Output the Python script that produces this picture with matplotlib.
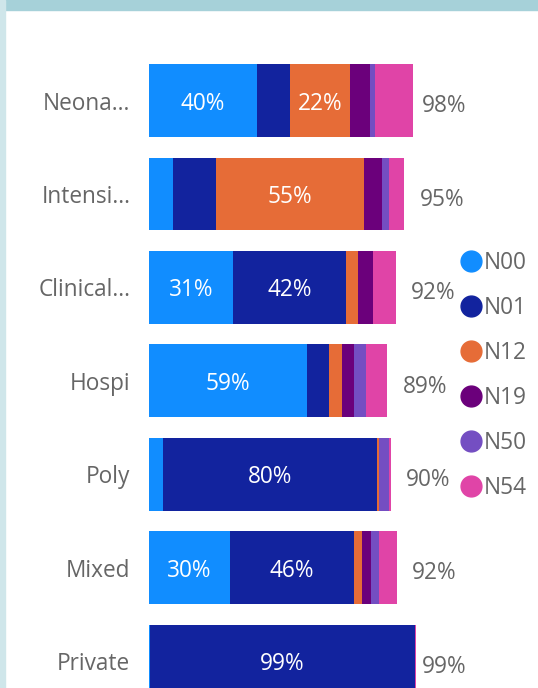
import matplotlib.pyplot as plt
from matplotlib.patches import Rectangle
from matplotlib.lines import Line2D
import numpy as np

plt.rcParams['font.family'] = ['Open Sans', 'DejaVu Sans']

# categories, top to bottom
categories = ["Neona...", "Intensi...", "Clinical...", "Hospi", "Poly", "Mixed", "Private"]

# share of each code per category, in percent
series_names = ["N00", "N01", "N12", "N19", "N50", "N54"]
n00 = [40.0, 8.9, 31.2, 58.7, 5.2, 30.1, 0.3]
n01 = [12.6, 16.0, 41.9, 8.2, 79.6, 46.1, 98.7]
n12 = [22.0, 55.0, 4.6, 4.8, 0.7, 3.0, 0.0]
n19 = [7.5, 6.7, 5.6, 4.5, 0.0, 3.3, 0.0]
n50 = [1.9, 2.7, 0.0, 4.5, 3.7, 3.0, 0.0]
n54 = [14.3, 5.6, 8.5, 7.9, 0.7, 6.7, 0.3]
series_values = [n00, n01, n12, n19, n50, n54]
colors = ["#118DFF", "#12239E", "#E66C37", "#6B007B", "#744EC2", "#E044A7"]

text_grey = "#666666"
fs = 16.3

W, H = 538, 688
fig = plt.figure(figsize=(W / 100, H / 100), dpi=100)
fig.patch.set_facecolor("white")

# light blue frame pieces of the report page
fig.patches.append(Rectangle((5 / W, 1 - 10 / H), 1, 10 / H, transform=fig.transFigure,
                             color="#A6D1D9", zorder=0))
fig.patches.append(Rectangle((0, 0), 5 / W, 1, transform=fig.transFigure,
                             color="#CFE6EA", zorder=0))

ax = fig.add_axes([149 / W, -0.0288, 269 / W, 0.9506])
ax.set_facecolor("none")

y = np.arange(len(categories))
left = np.zeros(len(categories))
for name, vals, col in zip(series_names, series_values, colors):
    vals = np.array(vals)
    ax.barh(y, vals, left=left, height=0.78, color=col, label=name)
    for i, v in enumerate(vals):
        if v >= 20:
            ax.text(left[i] + v / 2, i, f"{round(v)}%", ha="center", va="center_baseline",
                    color="white", fontsize=fs)
    left += vals

# totals to the right of the bars
for i, tot in enumerate(left):
    ax.annotate(f"{round(tot)}%", xy=(min(tot + 5.7, 101.4), i), xytext=(0, -2),
                textcoords="offset points", ha="left", va="center_baseline",
                color=text_grey, fontsize=fs, annotation_clip=False)

ax.set_xlim(0, 100)
ax.set_ylim(len(categories) - 0.5, -0.5)
ax.set_yticks(y)
ax.set_yticklabels(categories, fontsize=fs, color=text_grey, va="center_baseline")
ax.tick_params(axis="y", length=0, pad=13.5)
ax.set_xticks([])
for s in ax.spines.values():
    s.set_visible(False)

handles = [Line2D([], [], marker="o", linestyle="none", markersize=15,
                  markerfacecolor=c, markeredgecolor=c) for c in colors]
leg = fig.legend(handles, series_names, loc="upper left",
                 bbox_to_anchor=(462 / W, 1 - 251 / H), frameon=False,
                 fontsize=fs, labelcolor=text_grey, handlelength=0.8,
                 handletextpad=0.15, labelspacing=0.93, borderaxespad=0,
                 borderpad=0)

fig.savefig("out.png", dpi=100)
